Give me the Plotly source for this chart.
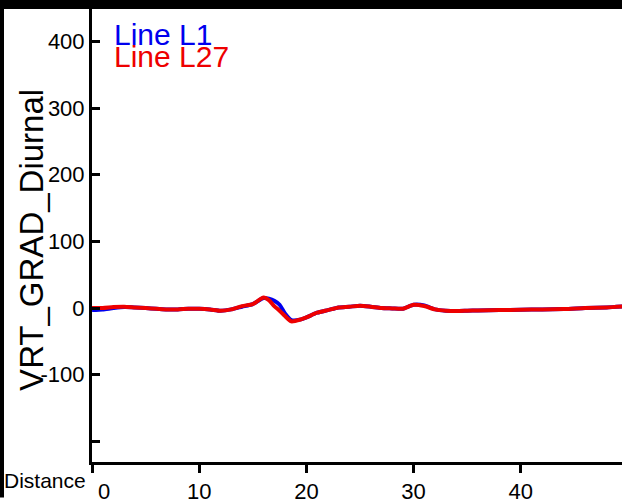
import plotly.graph_objects as go

distance = [0, 1, 2, 3, 4, 5, 6, 7, 8, 9, 10, 11, 12, 13, 14, 15, 16, 16.5, 17, 17.5, 18, 18.6,
            19.5, 20, 21, 22, 23, 24, 25, 26, 27, 28, 29, 30, 31, 32, 33, 34, 35, 36, 38,
            40, 42, 44, 46, 48, 50]
line_l1 = [-3, -2, 0, 1.5, 1, 0, -1, -2, -2, -1, -1, -2, -4, -2, 2, 6, 15, 14, 11, 5, -8, -18,
           -17, -14, -7, -3, 1, 2, 3.5, 2, 0, -0.5, -1, 5, 4, -2, -4, -4.5, -4, -3.5, -3,
           -2.5, -2, -1.5, 0, 1, 3]
line_l27 = [0, 0, 1.5, 2, 1, 0, -1, -2, -2, -1, -1, -2, -4, -2, 3, 6, 16, 12, 3, -4, -12, -20,
            -17, -14, -7, -3, 1, 2, 3.5, 2, 0, -0.5, -1, 5, 3, -2, -4, -4.5, -4, -3.5, -3,
            -2.5, -2, -1.5, 0, 1, 3]
x_tickvals = [0, 10, 20, 30, 40]
x_ticktext = ["\u00a0\u00a0\u00a0\u00a00", "10", "20", "30", "40"]
y_tickvals = [-200, -100, 0, 100, 200, 300, 400]
y_ticktext = ["", "-100", "0", "100", "200", "300", "400"]
series_names = ["Line L1", "Line L27"]
series_colors = ["#0000ee", "#ee0000"]
y_title = "VRT_GRAD_Diurnal"
x_title = "Distance"

FONT = "Arial, Liberation Sans, sans-serif"
PW, PH, L, B = 530, 468, 92, 36

fig = go.Figure()
for name, vals, col in zip(series_names, [line_l1, line_l27], series_colors):
    fig.add_trace(go.Scatter(x=distance, y=vals, mode="lines", name=name,
                             line=dict(color=col, width=4, shape="spline", smoothing=0.6)))

fig.update_layout(
    width=622, height=504,
    margin=dict(l=L, r=0, t=0, b=B, pad=0),
    paper_bgcolor="white", plot_bgcolor="white",
    showlegend=False,
    font=dict(family=FONT, color="black", size=21),
    xaxis=dict(range=[0, 49.44], tickvals=x_tickvals, ticktext=x_ticktext,
               showgrid=False, zeroline=False, showline=True, linecolor="black", linewidth=3,
               ticks="outside", ticklen=8, tickwidth=3, tickcolor="black",
               tickfont=dict(size=22, family=FONT)),
    yaxis=dict(range=[-231, 462.3], tickvals=y_tickvals, ticktext=y_ticktext,
               showgrid=False, zeroline=False, showline=True, linecolor="black", linewidth=3,
               ticks="inside", ticklen=8, tickwidth=3, tickcolor="black",
               tickfont=dict(size=22, family=FONT)),
)

def px_x(p):
    return (p - L) / PW

def px_y(p):
    return 1 - p / PH

# frame remnants (black bars at top and left)
fig.add_shape(type="rect", xref="paper", yref="paper", x0=px_x(0), x1=px_x(622),
              y0=px_y(9), y1=px_y(0), fillcolor="black", line_width=0, layer="above")
fig.add_shape(type="rect", xref="paper", yref="paper", x0=px_x(0), x1=px_x(4),
              y0=px_y(504), y1=px_y(0), fillcolor="black", line_width=0, layer="above")

# y-axis title
fig.add_annotation(text=y_title, xref="paper", yref="paper", x=px_x(32), y=px_y(243),
                   xanchor="center", yanchor="middle", textangle=-90, showarrow=False,
                   font=dict(size=33, family=FONT))

# legend texts
for i, (name, col) in enumerate(zip(series_names, series_colors)):
    fig.add_annotation(text=name, xref="paper", yref="paper", x=px_x(112),
                       y=px_y(35 + 22 * i), xanchor="left", yanchor="middle",
                       showarrow=False, font=dict(size=30, color=col, family=FONT))

fig.add_annotation(text=x_title, xref="paper", yref="paper", x=px_x(88),
                   y=px_y(487), xanchor="right", yanchor="middle",
                   showarrow=False, font=dict(size=21, family=FONT))

fig.write_html("out.html", config={"displayModeBar": False},
               post_script="document.body.style.margin='0';document.body.style.overflow='hidden';")
